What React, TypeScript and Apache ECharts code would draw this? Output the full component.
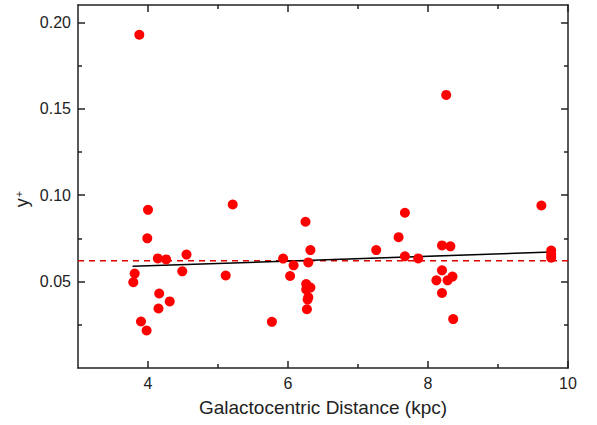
import React, { useEffect, useRef } from "react";
import * as echarts from "echarts";

const pointX = [3.876, 4.0, 5.21, 3.99, 4.14, 4.26, 4.55, 4.49, 5.11, 3.81, 3.79, 4.16, 4.31, 4.15, 3.9, 3.98,
  6.25, 6.32, 7.26, 5.93, 6.29, 6.08, 6.03, 6.26, 6.32, 6.26, 6.29, 6.28, 6.27, 5.77,
  7.67, 9.62, 7.58, 8.2, 8.32, 7.67, 7.86, 9.76, 9.76, 9.76, 8.2, 8.12, 8.28, 8.35, 8.2, 8.36, 8.26];
const pointY = [0.1928, 0.0915, 0.0946, 0.075, 0.0634, 0.0628, 0.0656, 0.0559, 0.0535, 0.0546, 0.0496, 0.0431, 0.0385, 0.0344, 0.0269, 0.0217,
  0.0846, 0.0682, 0.0682, 0.0633, 0.0611, 0.0594, 0.0532, 0.0486, 0.0465, 0.0454, 0.0409, 0.0396, 0.034, 0.0267,
  0.0898, 0.094, 0.0757, 0.0709, 0.0704, 0.0646, 0.0634, 0.068, 0.0657, 0.0638, 0.0565, 0.0507, 0.0507, 0.0529, 0.0434, 0.0283, 0.158];

const fitX = [3.78, 9.76];
const fitY = [0.0588, 0.0671];
const meanX = [3, 10];
const meanY = [0.0621, 0.0621];

const xMajor = [4, 6, 8, 10];
const xMinor = [5, 7, 9];
const yMajor = [0.05, 0.1, 0.15, 0.2];
const yMinor = [0.025, 0.075, 0.125, 0.175];

const xTitle = "Galactocentric Distance (kpc)";

const AXIS_COLOR = "#222";
const FONT = "'Liberation Sans', Arial, sans-serif";

export default function App() {
  const ref = useRef<HTMLDivElement>(null);
  useEffect(() => {
    if (!ref.current) return;
    const chart = echarts.init(ref.current, undefined, { renderer: "svg" });
    const lineStyle = { color: AXIS_COLOR, width: 1.5 };
    const mkX = (pos: "top" | "bottom", ticks: number[], len: number, labels: boolean, line: boolean, extra: any = {}) => ({
      type: "value",
      min: 3,
      max: 10,
      position: pos,
      axisLine: { show: line, onZero: false, lineStyle },
      axisTick: { show: true, inside: true, length: len, customValues: ticks, lineStyle },
      axisLabel: labels
        ? { show: true, customValues: ticks, margin: 7, color: AXIS_COLOR, fontSize: 16, fontFamily: FONT }
        : { show: false },
      splitLine: { show: false },
      ...extra,
    });
    const mkY = (pos: "left" | "right", ticks: number[], len: number, labels: boolean, line: boolean) => ({
      type: "value",
      min: 0,
      max: 0.21,
      position: pos,
      axisLine: { show: line, onZero: false, lineStyle },
      axisTick: { show: true, inside: true, length: len, customValues: ticks, lineStyle },
      axisLabel: labels
        ? {
            show: true,
            customValues: ticks,
            margin: 7,
            color: AXIS_COLOR,
            fontSize: 16,
            fontFamily: FONT,
            formatter: (v: number) => v.toFixed(2),
          }
        : { show: false },
      splitLine: { show: false },
    });
    chart.setOption({
      animation: false,
      backgroundColor: "#fff",
      grid: { left: 78, right: 29, top: 5, bottom: 57, containLabel: false },
      xAxis: [
        mkX("bottom", xMajor, 7, true, true, {
          name: xTitle,
          nameLocation: "middle",
          nameGap: 30,
          nameTextStyle: { color: AXIS_COLOR, fontSize: 19, fontFamily: FONT },
        }),
        mkX("bottom", xMinor, 4, false, false),
        mkX("top", xMajor, 7, false, true),
        mkX("top", xMinor, 4, false, false),
      ],
      yAxis: [
        mkY("left", yMajor, 7, true, true),
        mkY("left", yMinor, 4, false, false),
        mkY("right", yMajor, 7, false, true),
        mkY("right", yMinor, 4, false, false),
      ],
      graphic: [
        {
          type: "text",
          x: 22,
          y: 199,
          rotation: Math.PI / 2,
          style: {
            text: "{b|y}{s|+}",
            align: "center",
            verticalAlign: "middle",
            fill: AXIS_COLOR,
            rich: {
              b: { fontSize: 18, fontFamily: FONT, fill: AXIS_COLOR },
              s: { fontSize: 11, fontFamily: FONT, fill: AXIS_COLOR, verticalAlign: "top", padding: [0, 0, 0, 1] },
            },
          },
        },
      ],
      series: [
        {
          type: "line",
          xAxisIndex: 0,
          yAxisIndex: 0,
          data: meanX.map((x, i) => [x, meanY[i]]),
          symbol: "none",
          lineStyle: { color: "#e00000", width: 1.5, type: [6, 5] },
          silent: true,
          z: 2,
        },
        {
          type: "line",
          xAxisIndex: 0,
          yAxisIndex: 0,
          data: fitX.map((x, i) => [x, fitY[i]]),
          symbol: "none",
          lineStyle: { color: "#000", width: 1.5 },
          silent: true,
          z: 3,
        },
        {
          type: "scatter",
          xAxisIndex: 0,
          yAxisIndex: 0,
          data: pointX.map((x, i) => [x, pointY[i]]),
          symbol: "circle",
          symbolSize: 10,
          itemStyle: { color: "#ff0000", opacity: 1 },
          z: 4,
        },
      ],
    });
    return () => chart.dispose();
  }, []);
  return <div ref={ref} style={{ position: "absolute", left: 0, top: 0, width: 597, height: 425 }} />;
}
